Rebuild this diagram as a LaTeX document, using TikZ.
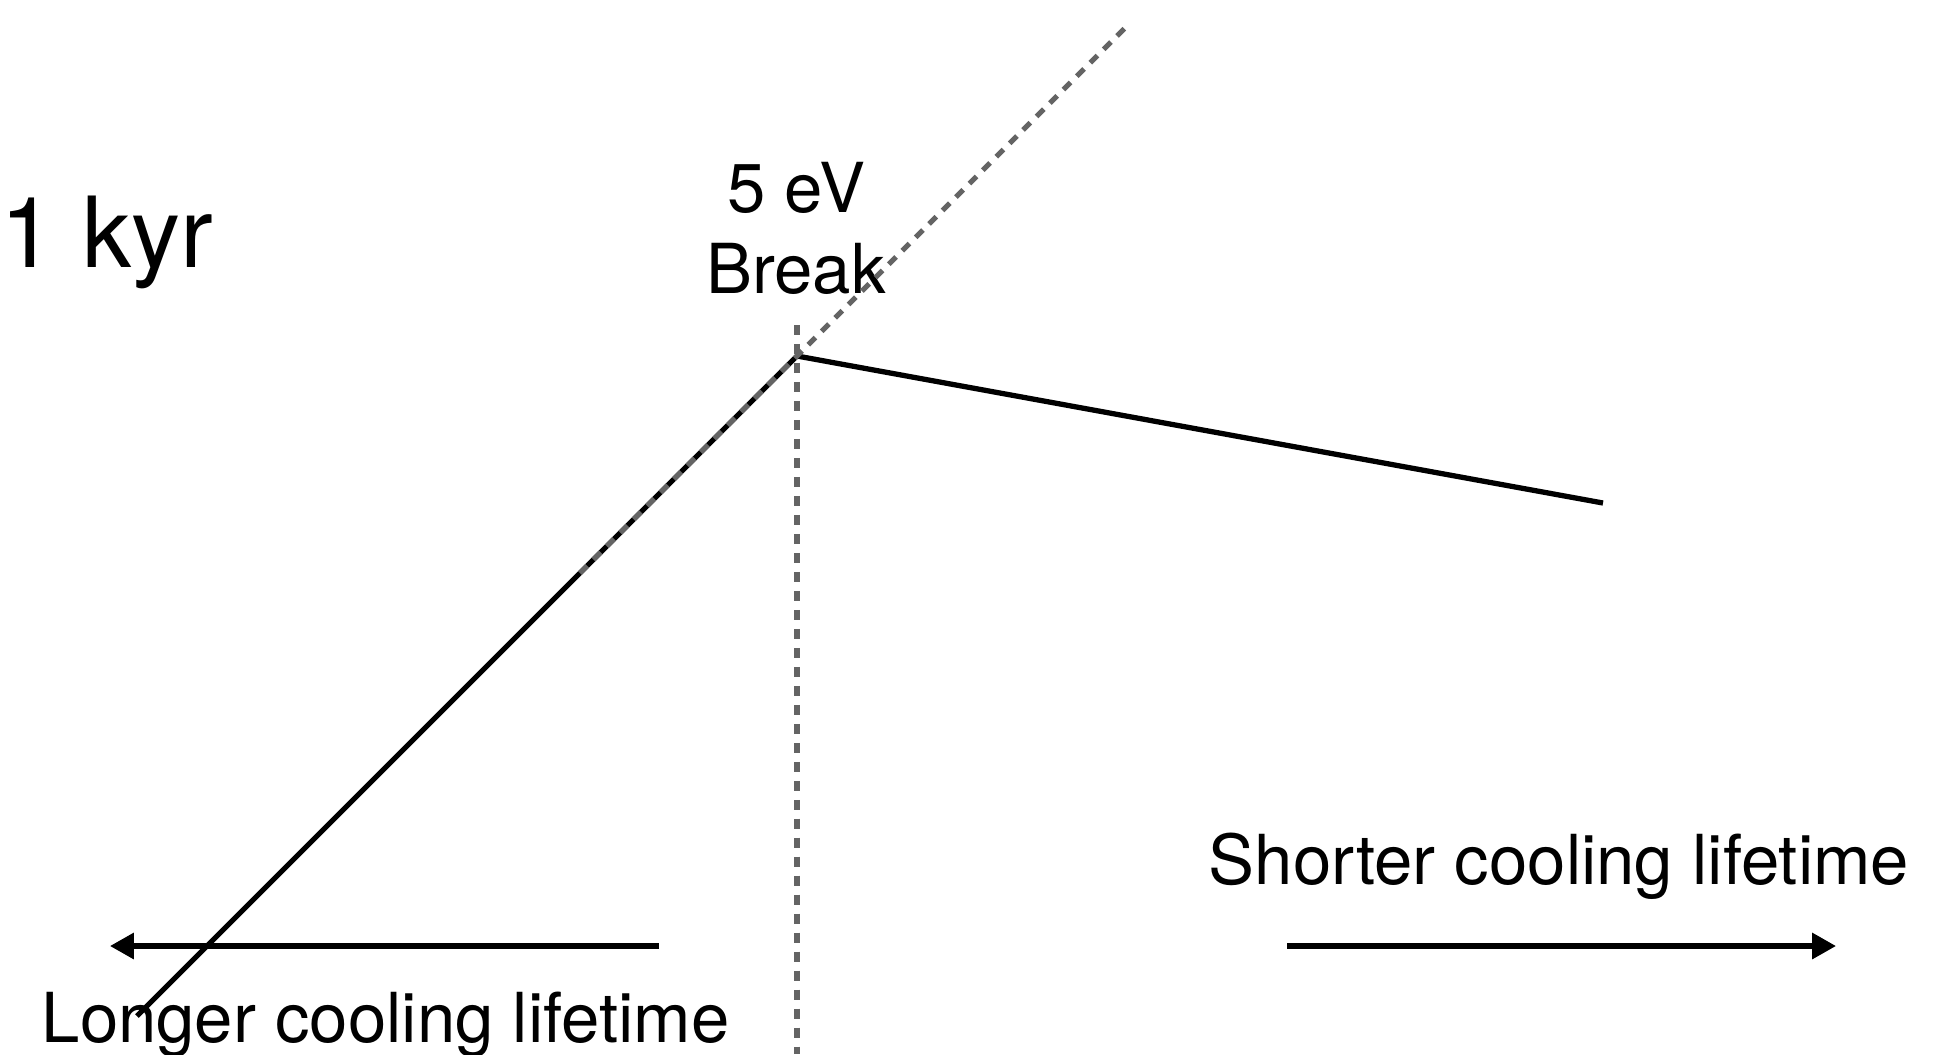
\documentclass[tikz,border=0pt]{standalone}
\usepackage{fontspec}
\setmainfont{TeX Gyre Heros}
\usetikzlibrary{arrows.meta}
\definecolor{dashgray}{HTML}{646464}
\tikzset{
  solidline/.style={line width=1.5pt, black},
  dotline/.style={line width=1.5pt, color=dashgray, dash pattern=on 2.9pt off 2.5pt},
  lifearrow/.style={line width=1.5pt, black, -{Triangle[length=6.8pt,width=7.2pt]}},
  lbl/.style={inner sep=0pt, font=\fontsize{19.6}{23}\selectfont},
  biglbl/.style={inner sep=0pt, font=\fontsize{27.9}{33}\selectfont}
}
\begin{document}
\begin{tikzpicture}[x=0.01cm, y=-0.01cm]
\useasboundingbox (0,0) rectangle (1957,1054);
% key points
\coordinate (B) at (797,356);
\coordinate (Llow) at (137,1016);
\coordinate (Rend) at (1603,503);
\coordinate (Dtop) at (1129,24);
\coordinate (Dlow) at (580,573);
\coordinate (Vtop) at (797,325);
\coordinate (Vbot) at (797,1054);
\coordinate (LAtail) at (659,946);
\coordinate (LAtip) at (110,946);
\coordinate (RAtail) at (1287,946);
\coordinate (RAtip) at (1836,946);
% labels
\node[biglbl, anchor=base east] (kyr) at (214,267) {\textasciitilde 1 kyr};
\node[lbl, anchor=base] (fiveev) at (796,212) {5 eV};
\node[lbl, anchor=base] (brk) at (796,293) {Break};
\node[lbl, anchor=base west] (shorter) at (1208,884) {Shorter cooling lifetime};
\node[lbl, anchor=base west] (longer) at (41,1042) {Longer cooling lifetime};
% lines
\draw[solidline] (Llow) -- (B) -- (Rend);
\draw[dotline] (Dlow) -- (Dtop);
\draw[dotline] (Vtop) -- (Vbot);
% arrows
\draw[lifearrow] (LAtail) -- (LAtip);
\draw[lifearrow] (RAtail) -- (RAtip);
\end{tikzpicture}
\end{document}
